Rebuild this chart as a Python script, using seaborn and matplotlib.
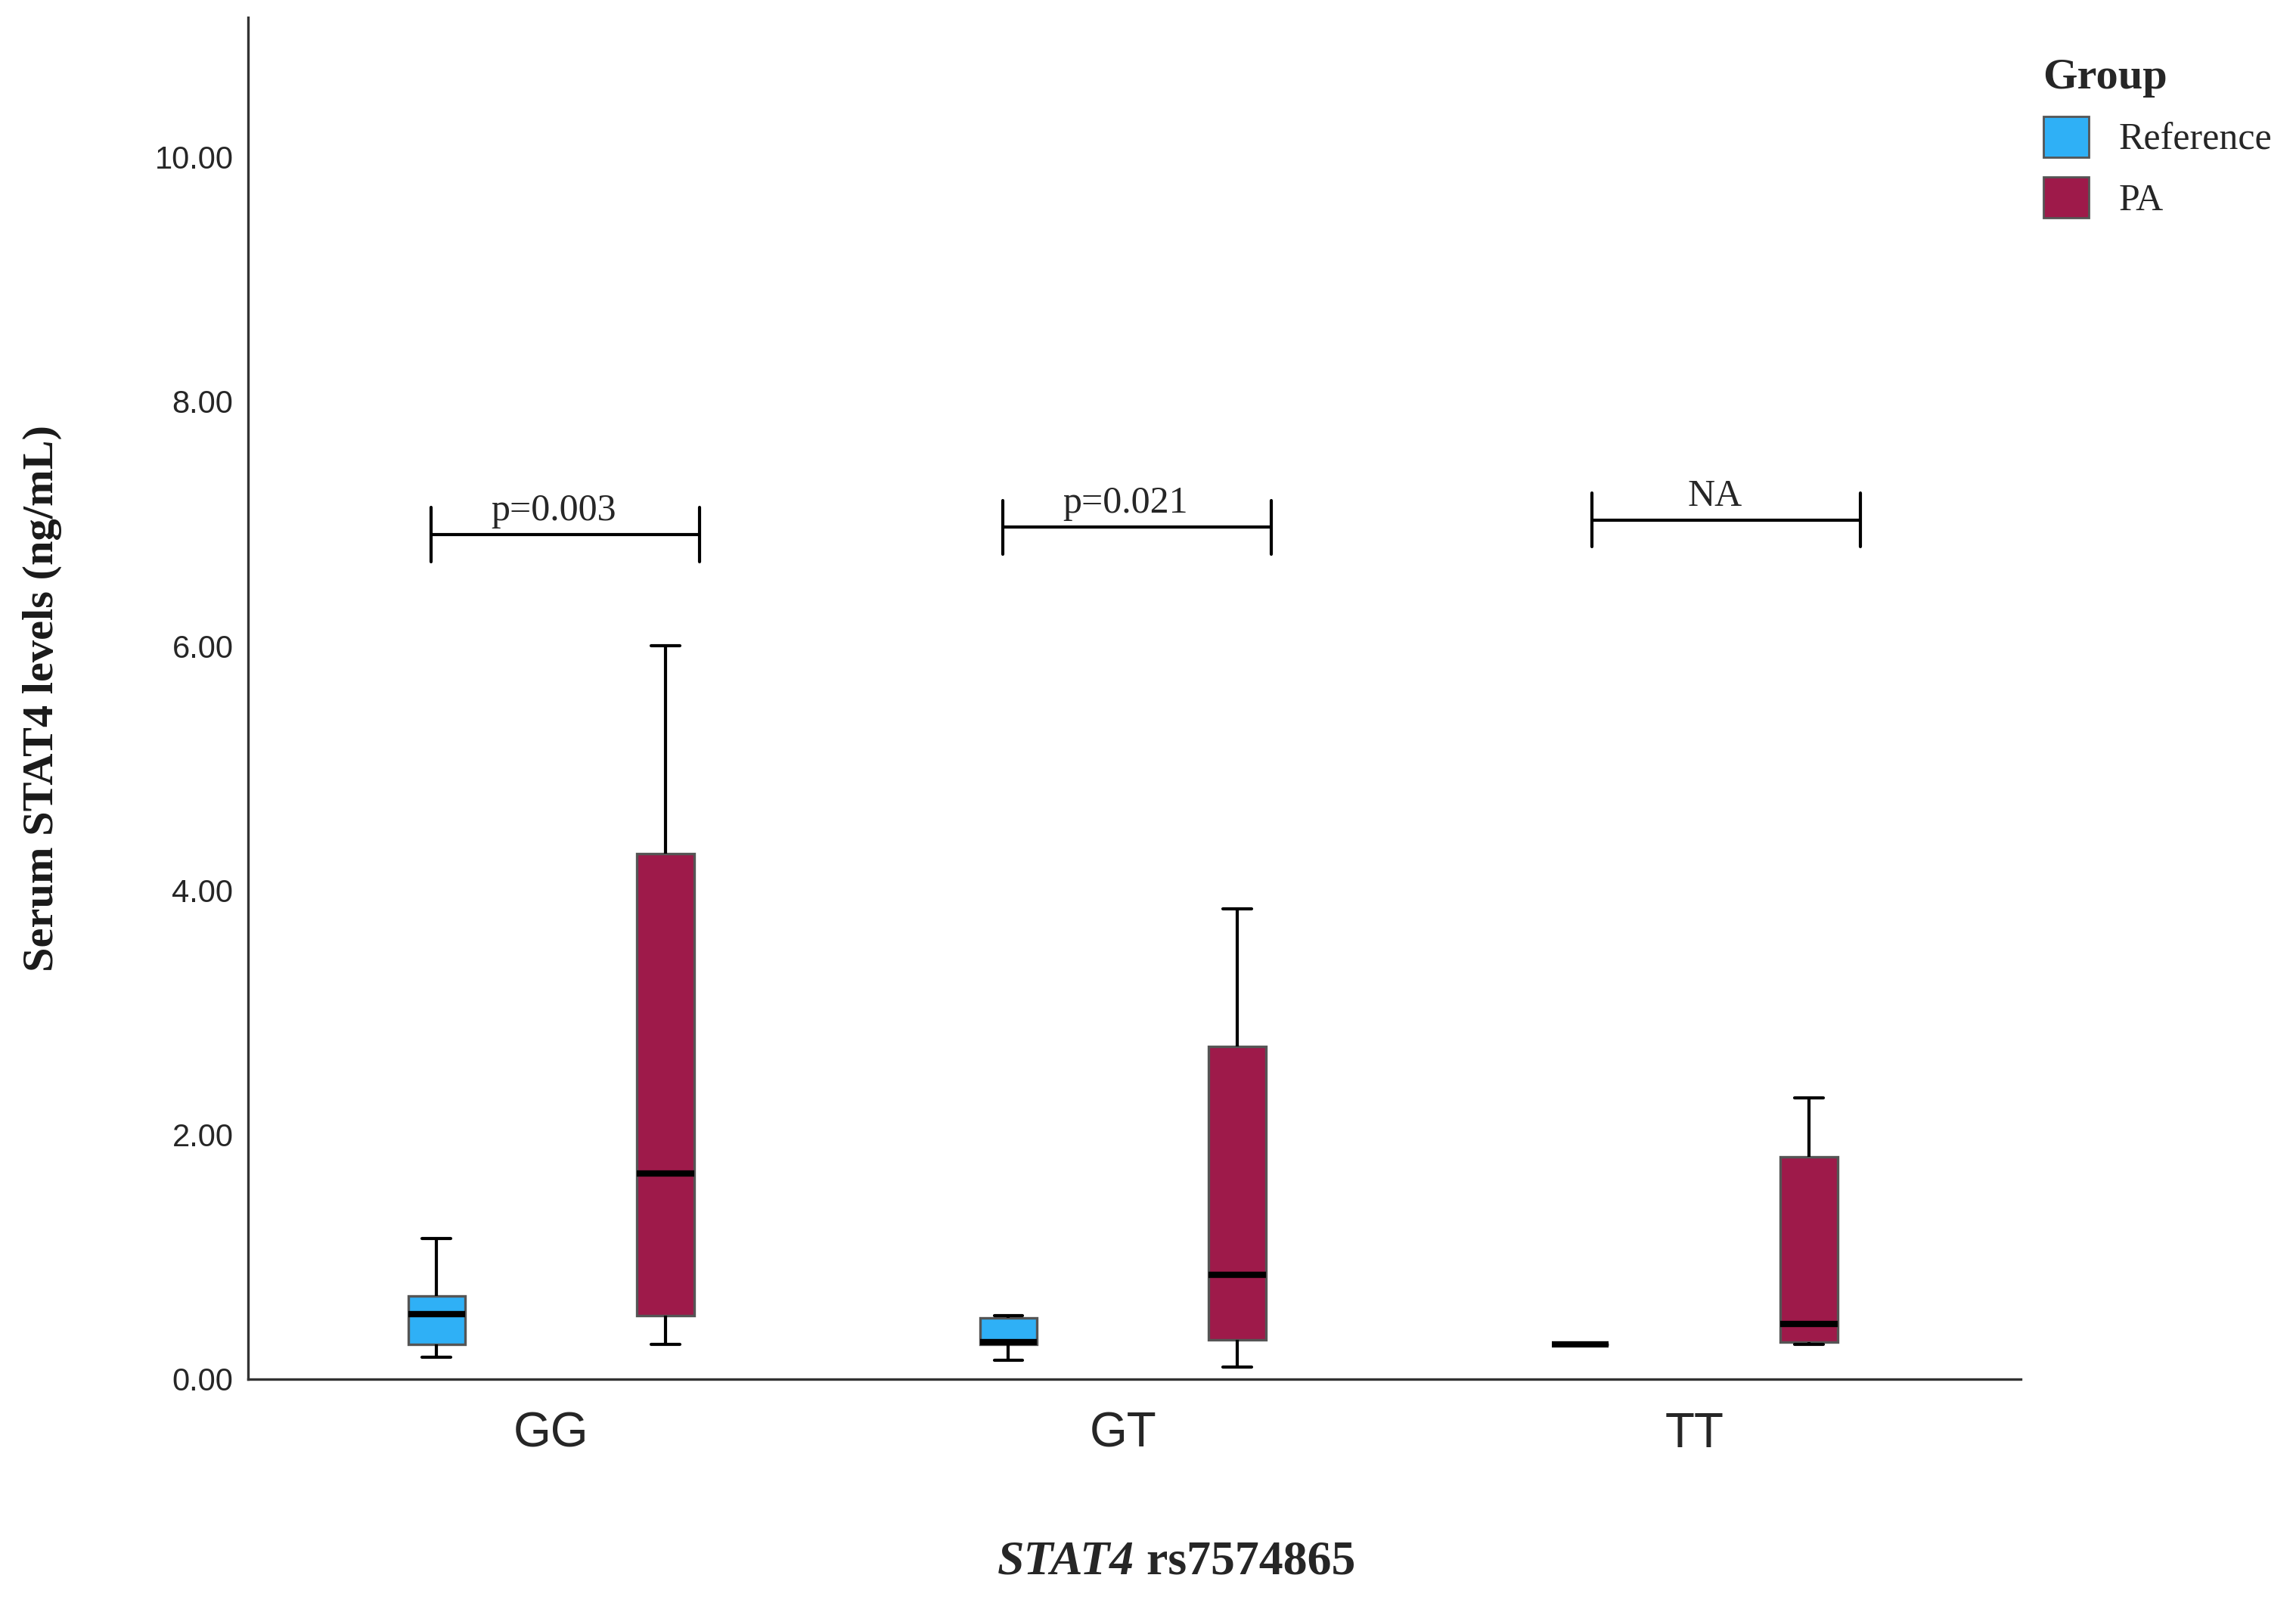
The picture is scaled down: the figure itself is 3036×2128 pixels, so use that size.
import matplotlib.pyplot as plt
import pandas as pd
import seaborn as sns
from matplotlib.patches import Patch

# five-number summaries (min, q1, median, q3, max)
genotypes = ['GG', 'GT', 'TT']
groups = ['Reference', 'PA']
gg_ref = [0.18, 0.28, 0.53, 0.68, 1.15]
gg_pa = [0.28, 0.52, 1.68, 4.30, 6.00]
gt_ref = [0.15, 0.28, 0.30, 0.50, 0.52]
gt_pa = [0.10, 0.32, 0.85, 2.72, 3.85]
tt_ref = [0.28, 0.28, 0.28, 0.28, 0.28]
tt_pa = [0.28, 0.30, 0.45, 1.82, 2.30]
brackets = ['p=0.003', 'p=0.021', 'NA']
bracket_y = [6.91, 6.97, 7.03]

rows = []
for g, ref, pa in zip(genotypes, [gg_ref, gt_ref, tt_ref], [gg_pa, gt_pa, tt_pa]):
    rows += [(g, 'Reference', v) for v in ref]
    rows += [(g, 'PA', v) for v in pa]
df = pd.DataFrame(rows, columns=['genotype', 'group', 'value'])

sns.set_style('white')
plt.rcParams['font.family'] = ['Liberation Sans', 'DejaVu Sans']
colors = {'Reference': '#2FB0F6', 'PA': '#9E1A4A'}

fig = plt.figure(figsize=(15.18, 10.64), dpi=200)
ax = fig.add_axes([0.108, 0.143, 0.772, 0.846])

sns.boxplot(data=df, x='genotype', y='value', hue='group', order=genotypes,
            hue_order=groups, palette=colors, saturation=1, width=0.8, gap=0.75,
            whis=10, linecolor='#555555', linewidth=1.2, legend=False, ax=ax,
            medianprops={'color': 'black', 'linewidth': 3},
            whiskerprops={'color': 'black', 'linewidth': 1.5},
            capprops={'color': 'black', 'linewidth': 1.5})

# significance brackets
offsets = [0, 0, 0.03]
for i, (lab, y, off) in enumerate(zip(brackets, bracket_y, offsets)):
    x0, x1 = i - 0.21 + off, i + 0.26 + off
    ax.plot([x0, x1], [y, y], color='black', lw=1.5)
    ax.plot([x0, x0], [y - 0.22, y + 0.22], color='black', lw=1.5)
    ax.plot([x1, x1], [y - 0.22, y + 0.22], color='black', lw=1.5)
    ax.text((x0 + x1) / 2 - 0.02, y + 0.05, lab, ha='center', va='bottom',
            fontsize=18, family='Liberation Serif')

ax.set_xlim(-0.53, 2.57)
ax.set_ylim(0, 11.14)
ax.set_yticks([0, 2, 4, 6, 8, 10])
ax.set_yticklabels([f'{v:.2f}' for v in [0, 2, 4, 6, 8, 10]], fontsize=15)
ax.tick_params(axis='x', labelsize=23, pad=12)
ax.set_xlabel('')
ax.set_ylabel('Serum STAT4 levels (ng/mL)', fontsize=21, fontweight='bold',
              family='Liberation Serif', color='#1a1a1a', labelpad=28)
ax.yaxis.set_label_coords(-0.105, 0.5)
ax.spines[['right', 'top']].set_visible(False)
for s in ['left', 'bottom']:
    ax.spines[s].set_color('#333333')
    ax.spines[s].set_linewidth(1.2)

fig.text(0.494, 0.022, 'STAT4', ha='right', fontsize=23, fontweight='bold',
         style='italic', family='Liberation Serif')
fig.text(0.494, 0.022, ' rs7574865', ha='left', fontsize=23, fontweight='bold',
         family='Liberation Serif')

handles = [Patch(facecolor=colors[g], edgecolor='#555555', label=g) for g in groups]
leg = fig.legend(handles=handles, title='Group', loc='upper left',
                 bbox_to_anchor=(0.875, 0.985), frameon=False,
                 prop={'family': 'Liberation Serif', 'size': 18},
                 handlelength=1.2, handleheight=1.3, alignment='left')
leg.get_title().set_fontsize(21)
leg.get_title().set_fontweight('bold')
leg.get_title().set_family('Liberation Serif')

fig.savefig('out.png', dpi=200)
